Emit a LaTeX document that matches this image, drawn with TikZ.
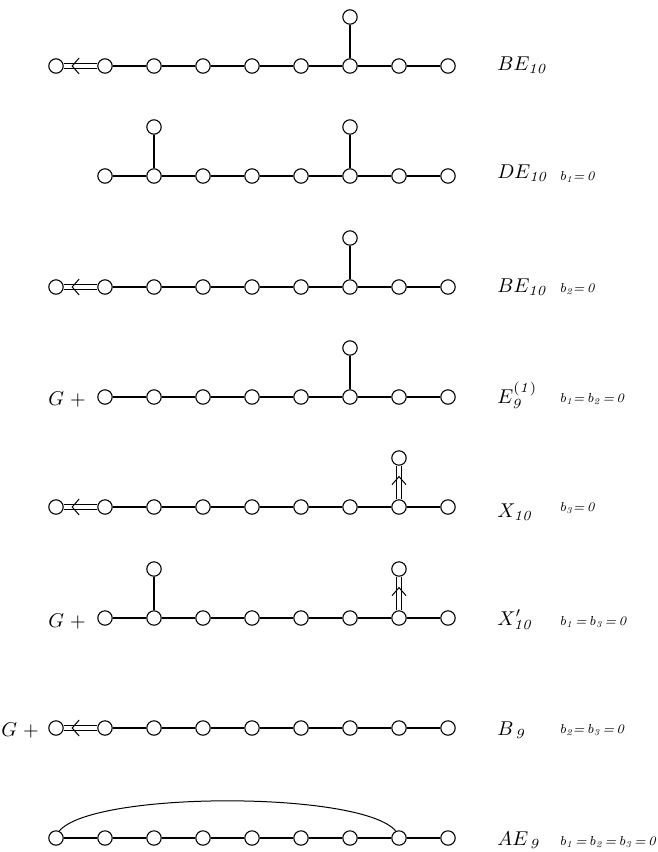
\documentclass[tikz,border=0pt]{standalone}
\usetikzlibrary{calc}
\tikzset{
  vtx/.style={circle,draw,fill=white,line width=0.55pt,minimum size=7.2pt,inner sep=0pt},
  bond/.style={line width=0.65pt},
  dbl/.style={double,double distance=1.7pt,line width=0.5pt},
  chev/.style={line width=0.5pt},
  alg/.style={anchor=base west,inner sep=0pt},
  bcond/.style={anchor=base west,inner sep=0pt,font=\fontsize{6.5}{8}\selectfont\itshape},
  gplus/.style={anchor=base east,inner sep=0pt}
}
\begin{document}
\begin{tikzpicture}[x=0.5pt,y=-0.5pt]
	\useasboundingbox (0,0) rectangle (658,852);
	% BE10
	\foreach \i in {1,...,9} \node[vtx] (a\i) at ({7+49*\i},66) {};
	\node[vtx] (at) at (350,17) {};
	\foreach \i [remember=\i as \p (initially 2)] in {3,...,9} \draw[bond] (a\p) -- (a\i);
	\draw[bond] (a7) -- (at);
	\draw[dbl] (a1) -- (a2);
	\coordinate (ac) at ($(a1)!0.33!(a2)$);
	\draw[chev] ([shift={(7,-8)}]ac) -- (ac) -- ([shift={(7,8)}]ac);
	\node[alg] (la) at (497,70) {$BE_{\mathit{10}}$};
	% DE10
	\foreach \i in {2,...,9} \node[vtx] (b\i) at ({7+49*\i},176) {};
	\node[vtx] (b3t) at (154,127) {};
	\node[vtx] (b7t) at (350,127) {};
	\foreach \i [remember=\i as \p (initially 2)] in {3,...,9} \draw[bond] (b\p) -- (b\i);
	\draw[bond] (b3) -- (b3t);
	\draw[bond] (b7) -- (b7t);
	\node[alg] (lb) at (497,178) {$DE_{\mathit{10}}$};
	\node[bcond] (kb) at (559,180) {b\textsubscript{1}=\,0};
	% BE10, b2=0
	\foreach \i in {1,...,9} \node[vtx] (c\i) at ({7+49*\i},287) {};
	\node[vtx] (ct) at (350,238) {};
	\foreach \i [remember=\i as \p (initially 2)] in {3,...,9} \draw[bond] (c\p) -- (c\i);
	\draw[bond] (c7) -- (ct);
	\draw[dbl] (c1) -- (c2);
	\coordinate (cc) at ($(c1)!0.33!(c2)$);
	\draw[chev] ([shift={(7,-8)}]cc) -- (cc) -- ([shift={(7,8)}]cc);
	\node[alg] (lc) at (497,292) {$BE_{\mathit{10}}$};
	\node[bcond] (kc) at (559,292) {b\textsubscript{2}=\,0};
	% E9(1)
	\foreach \i in {2,...,9} \node[vtx] (d\i) at ({7+49*\i},397) {};
	\node[vtx] (dt) at (350,348) {};
	\foreach \i [remember=\i as \p (initially 2)] in {3,...,9} \draw[bond] (d\p) -- (d\i);
	\draw[bond] (d7) -- (dt);
	\node[gplus] (gd) at (86,405) {$G$\hspace{3pt}+};
	\node[alg] (ld) at (497,403) {$E^{\mathit{(1)}}_{\mathit{9}}$};
	\node[bcond] (kd) at (559,402) {b\textsubscript{1}=\,b\textsubscript{2}\,=\,0};
	% X10
	\foreach \i in {1,...,9} \node[vtx] (e\i) at ({7+49*\i},507) {};
	\node[vtx] (et) at (399,458) {};
	\foreach \i [remember=\i as \p (initially 2)] in {3,...,9} \draw[bond] (e\p) -- (e\i);
	\draw[dbl] (e1) -- (e2);
	\coordinate (ec) at ($(e1)!0.33!(e2)$);
	\draw[chev] ([shift={(7,-8)}]ec) -- (ec) -- ([shift={(7,8)}]ec);
	\draw[dbl] (e8) -- (et);
	\coordinate (eu) at ($(et)!0.38!(e8)$);
	\draw[chev] ([shift={(-7,8)}]eu) -- (eu) -- ([shift={(7,8)}]eu);
	\node[alg] (le) at (497,517) {$X_{\mathit{10}}$};
	\node[bcond] (ke) at (559,511) {b\textsubscript{3}=\,0};
	% X'10
	\foreach \i in {2,...,9} \node[vtx] (f\i) at ({7+49*\i},618) {};
	\node[vtx] (f3t) at (154,569) {};
	\node[vtx] (f8t) at (399,569) {};
	\foreach \i [remember=\i as \p (initially 2)] in {3,...,9} \draw[bond] (f\p) -- (f\i);
	\draw[bond] (f3) -- (f3t);
	\draw[dbl] (f8) -- (f8t);
	\coordinate (fu) at ($(f8t)!0.38!(f8)$);
	\draw[chev] ([shift={(-7,8)}]fu) -- (fu) -- ([shift={(7,8)}]fu);
	\node[gplus] (gf) at (86,627) {$G$\hspace{3pt}+};
	\node[alg] (lf) at (497,625) {$X'_{\mathit{10}}$};
	\node[bcond] (kf) at (559,625) {b\textsubscript{1}\,=\,b\textsubscript{3}\,=\,0};
	% B9
	\foreach \i in {1,...,9} \node[vtx] (g\i) at ({7+49*\i},728) {};
	\foreach \i [remember=\i as \p (initially 2)] in {3,...,9} \draw[bond] (g\p) -- (g\i);
	\draw[dbl] (g1) -- (g2);
	\coordinate (gc) at ($(g1)!0.33!(g2)$);
	\draw[chev] ([shift={(7,-8)}]gc) -- (gc) -- ([shift={(7,8)}]gc);
	\node[gplus] (gg) at (39,736) {$G$\hspace{3pt}+};
	\node[alg] (lg) at (497,735) {$B_{\,\mathit{9}}$};
	\node[bcond] (kg) at (559,733) {b\textsubscript{2}=\,b\textsubscript{3}\,=\,0};
	% AE9
	\foreach \i in {1,...,9} \node[vtx] (h\i) at ({7+49*\i},838) {};
	\foreach \i [remember=\i as \p (initially 1)] in {2,...,9} \draw[bond] (h\p) -- (h\i);
	\draw[chev] (h1.65) to[out=50,in=130,looseness=0.4] (h8.115);
	\node[alg] (lh) at (497,845) {$AE_{\,\mathit{9}}$};
	\node[bcond] (kh) at (559,845) {b\textsubscript{1}\,=\,b\textsubscript{2}\,=\,b\textsubscript{3}\,=\,0};
\end{tikzpicture}
\end{document}
